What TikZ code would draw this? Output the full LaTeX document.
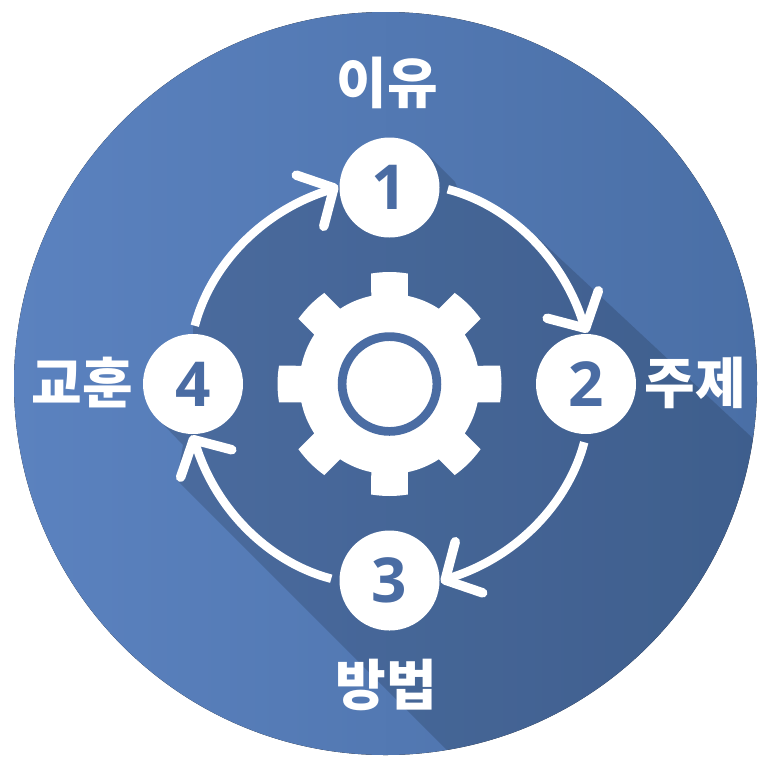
\documentclass[tikz,border=0pt]{standalone}
\usepackage{fontspec}
\usetikzlibrary{arrows.meta}
\newfontfamily\krfont{Noto Sans CJK KR}
\newfontfamily\numfont{Open Sans}
\definecolor{bgL}{HTML}{5B82BF}
\definecolor{bgR}{HTML}{4A6FA6}
\definecolor{ink}{HTML}{4A6CA3}
\tikzset{
  stepnode/.style={circle,fill=white,minimum size=100pt,inner sep=0pt,outer sep=1.5pt,text=ink,font=\numfont\bfseries\fontsize{62}{62}\selectfont},
  caption/.style={text=white,inner sep=0pt,font=\krfont\bfseries\fontsize{55}{55}\selectfont},
  flow/.style={white,line width=8.5pt,shorten <=7pt,-{Straight Barb[length=27pt,width=58pt,line width=9.5pt,round]}},
  at gear/.style={shift={(389.5,384)}}
}
\begin{document}
\begin{tikzpicture}[x=1pt,y=-1pt]
\useasboundingbox (0,0) rectangle (773,764);
\coordinate (C) at (389.5,384);
\fill[left color=bgL,right color=bgR] (385.5,383.5) circle[radius=371.5];
\begin{scope}
  \clip (385.5,383.5) circle[radius=371.5];
  \fill[black,opacity=.15] (425,152) -- (455,182) -- (459.3,192.3)
    arc[start angle=-70,end angle=-45,radius=204] -- (537,237)
    -- (760,445) -- (950,625) -- (950,950) -- (647,950) -- (177,480) -- (183,445) -- (158,419)
    -- (193,384) -- (193,327) arc[start angle=196.2,end angle=255.3,radius=204]
    -- (389.5,187.5) -- cycle;
\end{scope}
\node[stepnode] (n1) at (389.5,187.5) {1};
\node[stepnode] (n2) at (586,384) {2};
\node[stepnode] (n3) at (389.5,580.5) {3};
\node[stepnode] (n4) at (193,384) {4};
\draw[flow] (n1.east) arc[start angle=-75.3,end angle=-16.8,radius=203.1] -- (n2.88);
\draw[flow] (n2.south) arc[start angle=14.7,end angle=73.2,radius=203.1] -- (n3.-2);
\draw[flow] (n3.west) arc[start angle=104.7,end angle=163.2,radius=203.1] -- (n4.-92);
\draw[flow] (n4.north) arc[start angle=194.7,end angle=253.2,radius=203.1] -- (n1.178);
\fill[white] ([at gear]-11.7:90)
  foreach \a in {0,45,...,315} {
    -- ([at gear]{\a-9.4}:112) arc[start angle=\a-9.4,end angle=\a+9.4,radius=112]
    -- ([at gear]{\a+11.7}:90) arc[start angle=\a+11.7,end angle=\a+33.3,radius=90]
  } -- cycle;
\draw[ink,line width=8.7pt] (C) circle[radius=47.4];
\node[caption] (top) at (387,83) {이유};
\node[caption] (right) at (695,383) {주제};
\node[caption] (bottom) at (386,685) {방법};
\node[caption] (left) at (82.5,383) {교훈};
\end{tikzpicture}
\end{document}
